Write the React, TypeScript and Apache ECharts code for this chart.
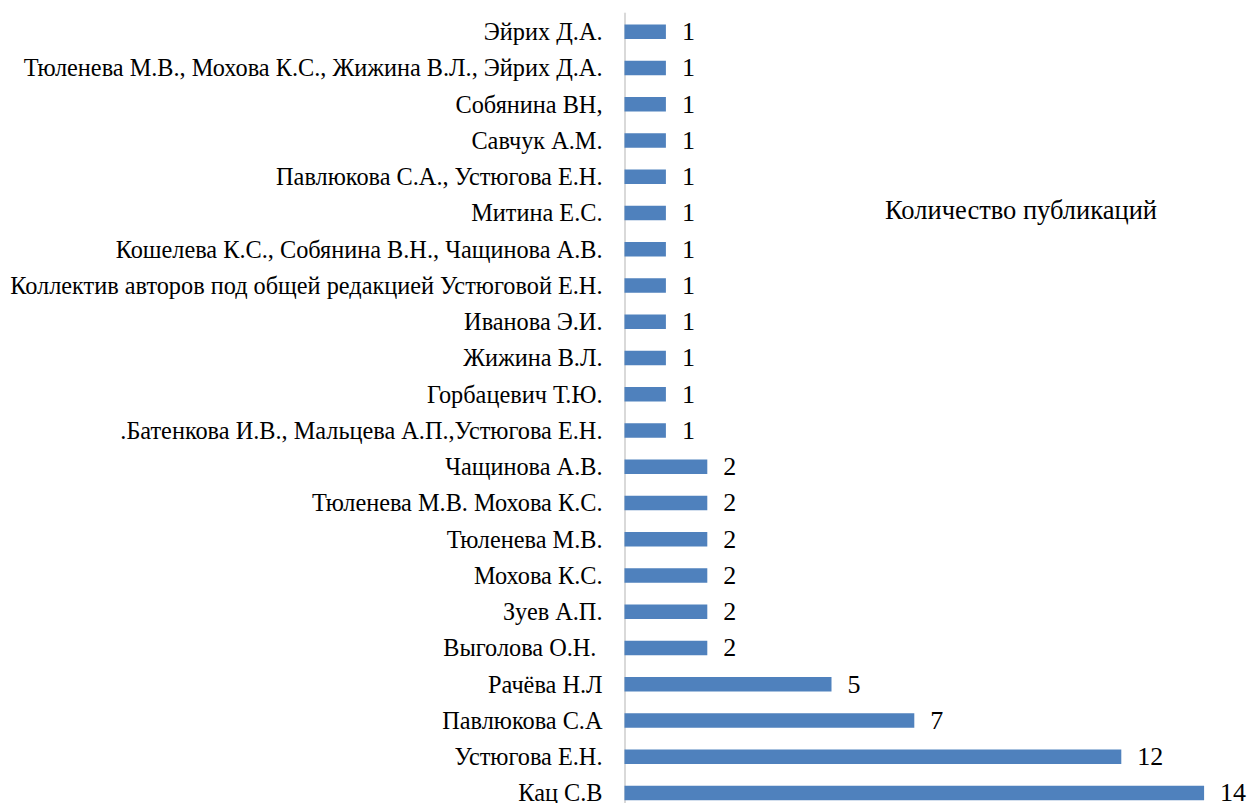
import React, { useEffect, useRef } from "react";
import * as echarts from "echarts";

const categories: string[] = [
  "Эйрих Д.А.",
  "Тюленева М.В., Мохова К.С., Жижина В.Л., Эйрих Д.А.",
  "Собянина ВН,",
  "Савчук А.М.",
  "Павлюкова С.А., Устюгова Е.Н.",
  "Митина Е.С.",
  "Кошелева К.С., Собянина В.Н., Чащинова А.В.",
  "Коллектив авторов под общей редакцией Устюговой Е.Н.",
  "Иванова Э.И.",
  "Жижина В.Л.",
  "Горбацевич Т.Ю.",
  ".Батенкова И.В., Мальцева А.П.,Устюгова Е.Н.",
  "Чащинова А.В.",
  "Тюленева М.В. Мохова К.С.",
  "Тюленева М.В.",
  "Мохова К.С.",
  "Зуев А.П.",
  "Выголова О.Н. ",
  "Рачёва Н.Л",
  "Павлюкова С.А",
  "Устюгова Е.Н.",
  "Кац С.В",
];

const values: number[] = [1, 1, 1, 1, 1, 1, 1, 1, 1, 1, 1, 1, 2, 2, 2, 2, 2, 2, 5, 7, 12, 14];

const seriesName = "Количество публикаций";

export default function App() {
  const ref = useRef<HTMLDivElement>(null);
  useEffect(() => {
    if (!ref.current) return;
    const chart = echarts.init(ref.current, undefined, { renderer: "svg" });
    const font = "Liberation Serif";
    chart.setOption({
      animation: false,
      grid: { left: 624.5, top: 13.6, width: 621, height: 797.5, containLabel: false },
      xAxis: {
        type: "value",
        min: 0,
        max: 15,
        show: false,
        splitLine: { show: false },
      },
      yAxis: {
        type: "category",
        data: categories,
        inverse: true,
        axisLine: { show: true, lineStyle: { color: "#d9d9d9", width: 2 } },
        axisTick: { show: false },
        axisLabel: { fontFamily: font, fontSize: 24.3, color: "#000000", margin: 22 },
      },
      series: [
        {
          name: seriesName,
          type: "bar",
          data: values,
          barWidth: 14.5,
          itemStyle: { color: "#4f81bd" },
          label: {
            show: true,
            position: "right",
            distance: 16,
            fontFamily: font,
            fontSize: 26,
            color: "#000000",
          },
        },
      ],
      graphic: [
        {
          type: "text",
          x: 1021,
          y: 210,
          style: {
            text: seriesName,
            fontFamily: font,
            fontSize: 26.5,
            fill: "#000000",
            align: "center",
            verticalAlign: "middle",
          },
        },
      ],
    });
    return () => chart.dispose();
  }, []);
  return (
    <div style={{ position: "absolute", left: 0, top: 0, width: 1248, height: 803, overflow: "hidden" }}>
      <div ref={ref} style={{ width: 1248, height: 820 }} />
    </div>
  );
}
